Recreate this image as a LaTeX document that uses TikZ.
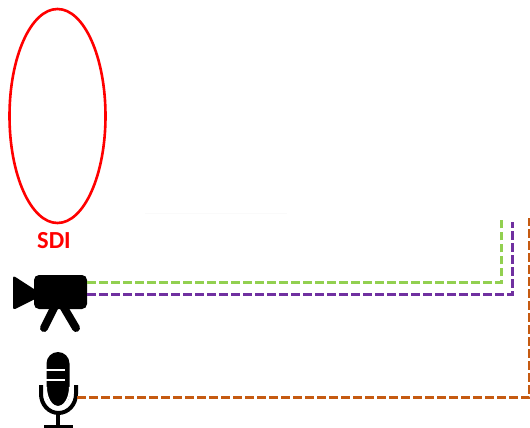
\documentclass[tikz,border=0pt]{standalone}
\usepackage{fontspec}
\setmainfont{Carlito}
\usepackage{tikz}
\usetikzlibrary{shapes.geometric,calc}
\definecolor{sdired}{RGB}{255,0,0}
\definecolor{linkgreen}{RGB}{146,208,80}
\definecolor{linkpurple}{RGB}{112,48,160}
\definecolor{linkorange}{RGB}{197,90,17}
\tikzset{
  zone/.style={draw=sdired, ellipse, line width=2.6pt, minimum width=96pt, minimum height=214pt, inner sep=0pt},
  zonelabel/.style={text=sdired, font=\fontsize{24.5}{24.5}\selectfont\bfseries, inner sep=0pt},
  cambody/.style={fill=black, rounded corners=5pt, minimum width=53pt, minimum height=34pt, inner sep=0pt},
  micbody/.style={fill=black, rounded corners=11.5pt, minimum width=23pt, minimum height=54pt, inner sep=0pt},
  link/.style={dashed, dash pattern=on 8.5pt off 3.5pt, line width=3pt},
  solidpart/.style={black, line width=4pt}
}
\begin{document}
\begin{tikzpicture}[x=1pt,y=-1pt]
  \useasboundingbox (0,0) rectangle (530,428);
  \node[zone] (sdi) at (57.5,116) {};
  \node[zonelabel] (sdilabel) at (54,241) {SDI};
  \draw[black!2, line width=1pt] (145,213) -- (287,213);
  % camera
  \node[cambody] (cam) at (60.5,292) {};
  \fill[black, rounded corners=2.5pt] (13,275.5) -- (37,291) -- (37,298) -- (13,310) -- cycle;
  \draw[black, line width=8pt, line cap=round] (55,306) -- (44,328);
  \draw[black, line width=8pt, line cap=round] (63,306) -- (76,328);
  % microphone
  \node[micbody] (mic) at (58,379) {};
  \draw[white, line width=2.4pt] (46,370) -- (65,370);
  \draw[white, line width=2.4pt] (46,380) -- (65,380);
  \draw[white, line width=2pt] (46,387) arc[start angle=180, end angle=360, x radius=12, y radius=-20];
  \draw[solidpart] (41,385) -- (41,394) arc[start angle=180, end angle=360, x radius=17.5, y radius=-19] -- (76,385);
  \draw[solidpart] (58,412) -- (58,426);
  \draw[solidpart] (44,426.5) -- (73,426.5);
  \coordinate (micout) at (77,397.5);
  % links
  \coordinate (greenend) at (501,220);
  \coordinate (purpleend) at (512.7,222);
  \coordinate (orangeend) at (529,218);
  \draw[link, linkgreen] ($(cam.east)+(0,-9.5)$) -| (greenend);
  \draw[link, linkpurple] ($(cam.east)+(0,2)$) -| (purpleend);
  \draw[link, linkorange] (micout) -| (orangeend);
\end{tikzpicture}
\end{document}
